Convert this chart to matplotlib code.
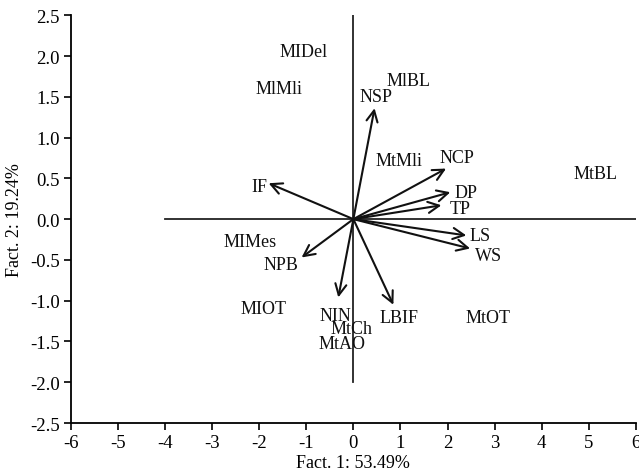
import numpy as np
import matplotlib
matplotlib.use("Agg")
import matplotlib.pyplot as plt

plt.rcParams['font.family'] = ['Liberation Serif', 'DejaVu Serif']

# variable vectors (arrows)
var_names = ["NSP", "NCP", "DP", "TP", "LS", "WS", "IF", "NPB", "NIN", "LBIF"]
var_x = [0.45, 1.97, 2.06, 1.87, 2.40, 2.48, -1.80, -1.10, -0.32, 0.85]
var_y = [1.36, 0.62, 0.33, 0.17, -0.20, -0.36, 0.44, -0.47, -0.96, -1.05]
# label positions for the variables
lab_x = [0.49, 2.20, 2.40, 2.27, 2.70, 2.87, -2.00, -1.53, -0.38, 0.96]
lab_y = [1.50, 0.75, 0.33, 0.13, -0.20, -0.44, 0.40, -0.56, -1.18, -1.21]

# sites (text only)
site_names = ["MIDel", "MlMli", "MlBL", "MtMli", "MtBL", "MIMes", "MIOT", "MtCh", "MtAO", "MtOT"]
site_x = [-1.06, -1.59, 1.17, 0.96, 5.14, -2.19, -1.91, -0.04, -0.25, 2.87]
site_y = [2.05, 1.60, 1.70, 0.72, 0.56, -0.28, -1.09, -1.34, -1.52, -1.20]

xticks = np.arange(-6, 7, 1)
yticks = np.arange(-2.5, 2.75, 0.5)

fig = plt.figure(figsize=(6.39, 4.77), dpi=100)
ax = fig.add_axes([0.111, 0.111, 0.884, 0.855])

# centre lines
ax.plot([-4, 6], [0, 0], color='#222222', lw=1.3)
ax.plot([0, 0], [-2, 2.5], color='#222222', lw=1.3)

for n, x, y, lx, ly in zip(var_names, var_x, var_y, lab_x, lab_y):
    ax.annotate("", xy=(x, y), xytext=(0, 0),
                arrowprops=dict(arrowstyle='->', lw=1.5, color='#111111',
                                mutation_scale=20, shrinkA=0, shrinkB=0))
    ax.text(lx, ly, n, ha='center', va='center', fontsize=13, color='#111111')

for n, x, y in zip(site_names, site_x, site_y):
    ax.text(x, y, n, ha='center', va='center', fontsize=13, color='#111111')

ax.set_xlim(-6, 6)
ax.set_ylim(-2.5, 2.5)
ax.set_xticks(xticks)
ax.set_yticks(yticks)
ax.set_xticklabels([str(t) for t in xticks])
ax.set_yticklabels(["%.1f" % t for t in yticks])
ax.spines['top'].set_visible(False)
ax.spines['right'].set_visible(False)
ax.spines['left'].set_linewidth(1.3)
ax.spines['bottom'].set_linewidth(1.3)
ax.tick_params(direction='out', length=5, width=1.2, labelsize=13.5, pad=3)
ax.set_xlabel("Fact. 1: 53.49%", fontsize=13, labelpad=2)
ax.set_ylabel("Fact. 2: 19.24%", fontsize=13, labelpad=5)

fig.savefig("out.png", dpi=100)
